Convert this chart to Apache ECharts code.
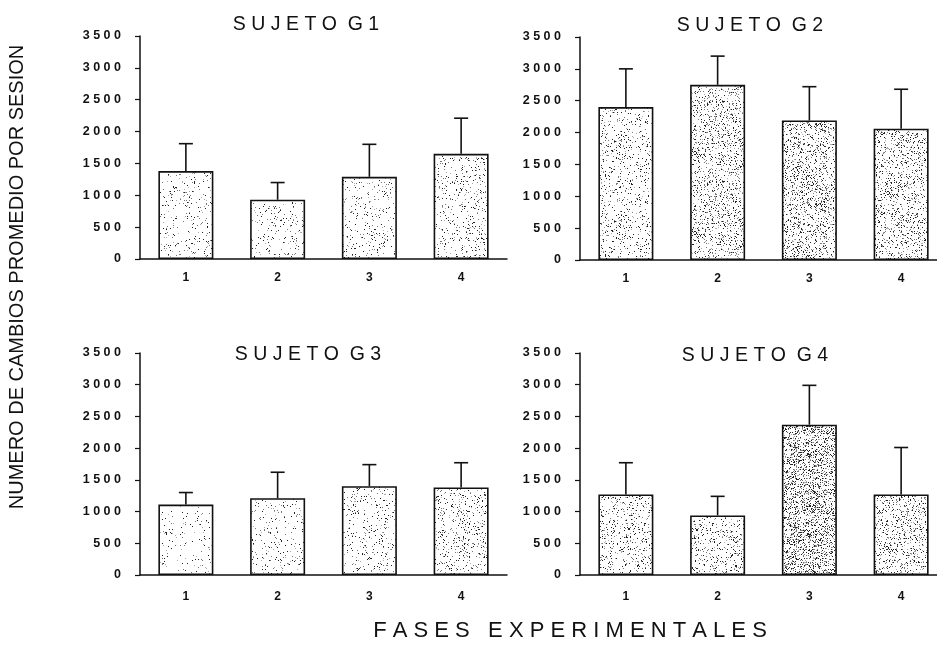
<!DOCTYPE html>
<html>
<head>
<meta charset="utf-8">
<script src="https://cdn.jsdelivr.net/npm/echarts@6/dist/echarts.min.js"></script>
<style>html,body{margin:0;padding:0;background:#fff;overflow:hidden;}#chart{width:960px;height:650px;}</style>
</head>
<body>
<div id="chart"></div>
<script>
// ---- data ----
const categories = ['1', '2', '3', '4'];
const panelTitles = ['S U J E T O  G 1', 'S U J E T O  G 2', 'S U J E T O  G 3', 'S U J E T O  G 4'];
const g1Mean = [1380, 930, 1290, 1650];
const g1Upper = [1810, 1200, 1800, 2210];
const g2Mean = [2400, 2750, 2190, 2060];
const g2Upper = [3000, 3200, 2720, 2680];
const g3Mean = [1110, 1210, 1400, 1380];
const g3Upper = [1300, 1620, 1740, 1770];
const g4Mean = [1270, 940, 2370, 1270];
const g4Upper = [1770, 1240, 2990, 2010];
const yMin = 0, yMax = 3500, yInterval = 500;
const yTitle = 'NUMERO DE CAMBIOS PROMEDIO POR SESION';
const xTitle = 'F A S E S   E X P E R I M E N T A L E S';

// ---- styles ----
const means = [g1Mean, g2Mean, g3Mean, g4Mean];
const uppers = [g1Upper, g2Upper, g3Upper, g4Upper];
const densities = [
  [0.05, 0.05, 0.06, 0.07],
  [0.09, 0.15, 0.18, 0.15],
  [0.04, 0.05, 0.07, 0.10],
  [0.12, 0.12, 0.28, 0.15]
];
const grids = [
  {left: 140, top: 36, width: 367, height: 223},
  {left: 580, top: 37, width: 367, height: 223},
  {left: 140, top: 353, width: 367, height: 222},
  {left: 580, top: 353, width: 367, height: 222}
];
const titlePos = [[301, 21], [745, 22], [303, 351], [750, 352]];

// stipple texture (deterministic)
function makePattern(density, seed) {
  const c = document.createElement('canvas');
  c.width = 80; c.height = 80;
  const ctx = c.getContext('2d');
  ctx.fillStyle = '#ffffff';
  ctx.fillRect(0, 0, 80, 80);
  let s = seed;
  function rnd() { s = (s * 1103515245 + 12345) % 2147483648; return s / 2147483648; }
  for (let y = 0; y < 80; y++) {
    for (let x = 0; x < 80; x++) {
      const r = rnd();
      if (r < density) {
        const t = rnd();
        ctx.fillStyle = t < 0.45 ? '#222' : (t < 0.8 ? '#777' : '#aaa');
        ctx.fillRect(x, y, 1, 1);
      }
    }
  }
  return c;
}

const chart = echarts.init(document.getElementById('chart'), null, {renderer: 'canvas'});

const font = 'Liberation Sans, Arial, sans-serif';
const option = {
  backgroundColor: '#ffffff',
  animation: false,
  title: panelTitles.map((t, i) => ({
    text: t,
    left: titlePos[i][0],
    top: titlePos[i][1] - 11,
    textAlign: 'center',
    textStyle: {fontFamily: font, fontSize: 19.5, fontWeight: 'normal', color: '#111'}
  })),
  grid: grids,
  xAxis: grids.map((g, i) => ({
    type: 'category',
    gridIndex: i,
    data: categories,
    axisLine: {lineStyle: {color: '#111', width: 1.5}},
    axisTick: {alignWithLabel: true, length: 4, lineStyle: {color: '#111', width: 1.5}},
    axisLabel: {color: '#111', fontFamily: font, fontSize: 12, fontWeight: 'bold', margin: i < 2 ? 13 : 16},
    splitLine: {show: false}
  })),
  yAxis: grids.map((g, i) => ({
    type: 'value',
    gridIndex: i,
    min: yMin, max: yMax, interval: yInterval,
    axisLine: {show: true, lineStyle: {color: '#111', width: 1.5}},
    axisTick: {show: true, length: 5, lineStyle: {color: '#111', width: 1.2}},
    axisLabel: {
      color: '#111', fontFamily: font, fontSize: 12.5, fontWeight: 'bold', margin: 19,
      formatter: v => String(v).split('').join(' ')
    },
    splitLine: {show: false}
  })),
  graphic: [
    {
      type: 'text', x: 17, y: 277, rotation: Math.PI / 2,
      style: {text: yTitle, fontFamily: font, fontSize: 20, fill: '#111', textAlign: 'center', textVerticalAlign: 'middle'}
    },
    {
      type: 'text', x: 570, y: 631,
      style: {text: xTitle, fontFamily: font, fontSize: 22, fill: '#111', textAlign: 'center', textVerticalAlign: 'middle'}
    }
  ],
  series: []
};

means.forEach((m, i) => {
  option.series.push({
    type: 'bar',
    xAxisIndex: i, yAxisIndex: i,
    barWidth: 55,
    data: m.map((v, j) => ({
      value: v,
      itemStyle: {
        color: {image: makePattern(densities[i][j], 1000 + i * 37 + j * 11), repeat: 'repeat'},
        borderColor: '#111', borderWidth: 1.6
      }
    })),
    z: 2
  });
  option.series.push({
    type: 'custom',
    xAxisIndex: i, yAxisIndex: i,
    z: 3,
    data: m.map((v, j) => [j, v, uppers[i][j]]),
    renderItem: function (params, api) {
      const p0 = api.coord([api.value(0), api.value(1)]);
      const p1 = api.coord([api.value(0), api.value(2)]);
      const st = {stroke: '#111', lineWidth: 1.6};
      return {
        type: 'group',
        children: [
          {type: 'line', shape: {x1: p0[0], y1: p0[1], x2: p1[0], y2: p1[1]}, style: st},
          {type: 'line', shape: {x1: p1[0] - 7, y1: p1[1], x2: p1[0] + 7, y2: p1[1]}, style: st}
        ]
      };
    }
  });
});

chart.setOption(option);
</script>
</body>
</html>
